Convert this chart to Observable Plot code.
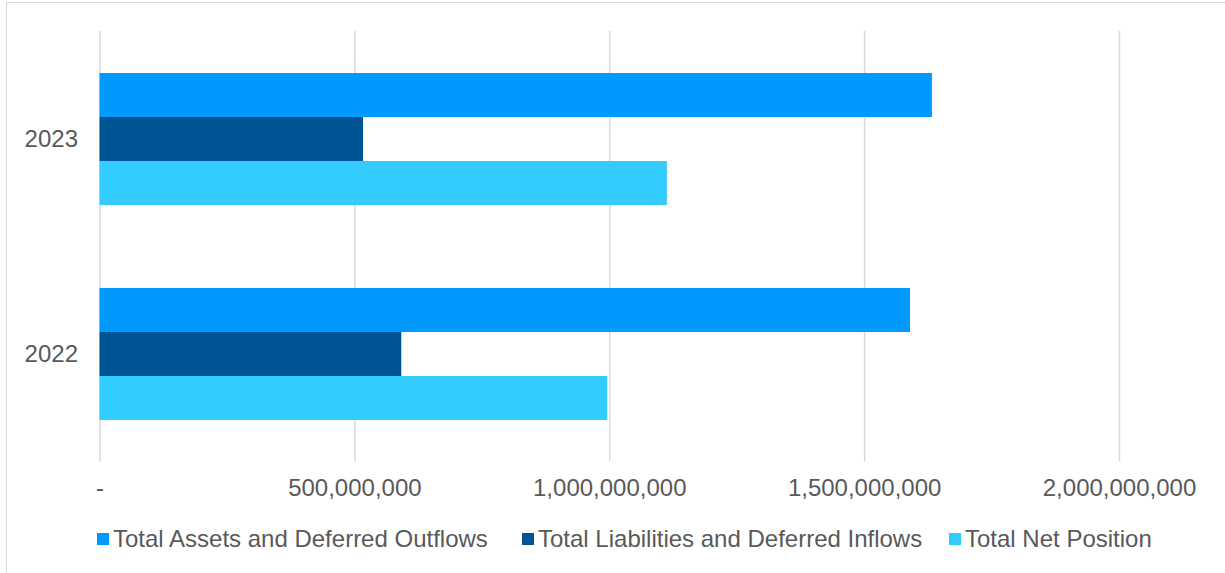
<!DOCTYPE html>
<html><head><meta charset="utf-8">
<script src="https://cdn.jsdelivr.net/npm/d3@7"></script>
<script src="https://cdn.jsdelivr.net/npm/@observablehq/plot@0.6"></script>
<style>
body{margin:0;background:#fff;font-family:"Liberation Sans",Arial,sans-serif;overflow:hidden;}
#frame{position:absolute;left:6px;top:2px;width:1240px;height:590px;border-left:1.5px solid #d9d9d9;border-top:1.5px solid #d9d9d9;}
#chart{position:absolute;left:0;top:0;}
#legend{position:absolute;left:0;top:525px;width:1225px;height:30px;font-size:24px;color:#595959;white-space:nowrap;line-height:28px;}
.item{position:absolute;top:0;display:flex;align-items:center;}
.sw{width:12px;height:12px;margin-right:4px;}
</style></head>
<body>
<div id="frame"></div>
<div id="chart"></div>
<div id="legend"></div>
<script>
const years = ["2023", "2022"];
const series = ["Total Assets and Deferred Outflows", "Total Liabilities and Deferred Inflows", "Total Net Position"];
const colors = ["#0099FF", "#005493", "#33CCFF"];
const assets = [1633e6, 1590e6];
const liabilities = [517e6, 592e6];
const netPosition = [1113e6, 996e6];
const xTicks = [0, 500e6, 1000e6, 1500e6, 2000e6];

const values = [assets, liabilities, netPosition];
const data = [];
years.forEach((yr, i) => series.forEach((s, j) => data.push({year: yr, series: s, value: values[j][i]})));

const fmt = d3.format(",");
const chart = Plot.plot({
  width: 1225,
  height: 515,
  marginLeft: 99.5,
  marginRight: 106,
  marginTop: 31,
  marginBottom: 54,
  style: {fontFamily: "'Liberation Sans', Arial, sans-serif", fontSize: "24px", color: "#595959", background: "transparent"},
  x: {domain: [0, 2000e6], ticks: xTicks, tickSize: 0, tickPadding: 17, label: null, tickFormat: d => d === 0 ? "-" : fmt(d)},
  y: {domain: series, axis: null, paddingInner: 0, paddingOuter: 0.9},
  fy: {domain: years, padding: 0, axis: "left", tickSize: 0, tickPadding: 22, label: null},
  color: {domain: series, range: colors},
  marks: [
    Plot.gridX(xTicks, {stroke: "#d9d9d9", strokeOpacity: 1, strokeWidth: 1.5}),
    Plot.barX(data, {x: "value", y: "series", fy: "year", fill: "series"})
  ]
});
document.getElementById("chart").appendChild(chart);

const legend = document.getElementById("legend");
const legendLeft = [97, 522, 949];
series.forEach((s, j) => {
  const it = document.createElement("div");
  it.className = "item";
  it.style.left = legendLeft[j] + "px";
  const sw = document.createElement("span");
  sw.className = "sw";
  sw.style.background = colors[j];
  const tx = document.createElement("span");
  tx.textContent = s;
  it.appendChild(sw); it.appendChild(tx);
  legend.appendChild(it);
});
</script>
</body></html>
